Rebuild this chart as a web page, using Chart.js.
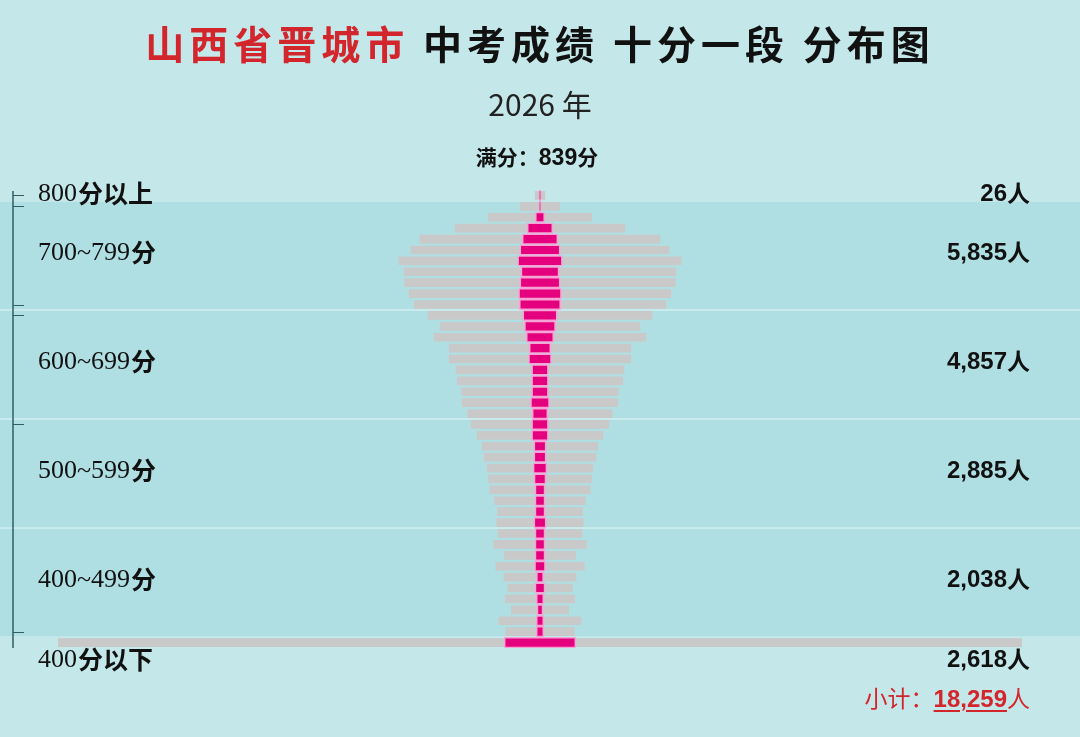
<!DOCTYPE html>
<html>
<head>
<meta charset="utf-8">
<script src="https://cdn.jsdelivr.net/npm/chart.js@4.4.1/dist/chart.umd.min.js"></script>
<style>
  html, body { margin: 0; padding: 0; background: #C4E7EA; }
  #wrap { position: relative; width: 1080px; height: 737px; overflow: hidden; }
  #c { position: absolute; left: 0; top: 0; }
  .t { position: absolute; white-space: nowrap; }
  #title { left: 0; width: 1080px; top: 15px; text-align: center; font-family: 'Noto Sans CJK SC', sans-serif; font-weight: 700; font-size: 39px; letter-spacing: 5px; color: #111; line-height: 54px; }
  #title .red { color: #D3262C; }
  #year { left: 0; width: 1080px; top: 83px; text-align: center; font-family: 'Noto Sans CJK SC', sans-serif; font-weight: 400; font-size: 30px; color: #222; line-height: 40px; }
  #full { left: 0; width: 1074px; top: 142px; text-align: center; font-family: 'Noto Sans CJK SC', sans-serif; font-weight: 700; font-size: 21px; color: #111; line-height: 28px; }
  #full .n { font-family: 'Liberation Sans Narrow', 'Liberation Sans', sans-serif; font-size: 23px; }
  #sum { right: 50px; top: 682px; font-family: 'Noto Sans CJK SC', sans-serif; font-size: 23px; color: #D3262C; line-height: 30px; }
  #sum .n { font-family: 'Liberation Sans Narrow', 'Liberation Sans', sans-serif; font-weight: 700; font-size: 24px; text-decoration: underline; text-decoration-thickness: 2px; text-underline-offset: 3px; }
</style>
</head>
<body>
<div id="wrap">
  <canvas id="c" width="1080" height="737"></canvas>
  <div class="t" id="title"><span class="red">山西省晋城市</span> 中考成绩 十分一段 分布图</div>
  <div class="t" id="year">2026 年</div>
  <div class="t" id="full">满分：<span class="n">839</span>分</div>
  <div class="t" id="sum">小计：<span class="n" id="sumNum"></span>人</div>
</div>
<script>
// ---- data ----
const rowLabels = [
  '800分以上',
  '790~799','780~789','770~779','760~769','750~759','740~749','730~739','720~729','710~719','700~709',
  '690~699','680~689','670~679','660~669','650~659','640~649','630~639','620~629','610~619','600~609',
  '590~599','580~589','570~579','560~569','550~559','540~549','530~539','520~529','510~519','500~509',
  '490~499','480~489','470~479','460~469','450~459','440~449','430~439','420~429','410~419','400~409',
  '400分以下'
];
// people per 10-point segment (grey bars)
const segmentCounts = [
  26,
  107, 281, 461, 652, 700, 766, 738, 736, 711, 683,
  608, 543, 575, 493, 493, 456, 449, 425, 422, 393,
  374, 341, 314, 304, 287, 279, 273, 247, 231, 235,
  228, 253, 193, 241, 196, 175, 188, 155, 223, 186,
  2618
];
// magenta core bars (same axis units)
const coreValues = [
  5,
  5, 25, 69, 96, 109, 121, 103, 109, 116, 112,
  93, 84, 74, 58, 62, 45, 45, 45, 51, 42,
  45, 45, 33, 33, 37, 32, 27, 27, 27, 33,
  27, 27, 27, 29, 19, 27, 20, 16, 20, 20,
  194
];
const bandLabels = ['800分以上', '700~799分', '600~699分', '500~599分', '400~499分', '400分以下'];
const bandTotals = [26, 5835, 4857, 2885, 2038, 2618];
const bandFirstRow = [0, 1, 11, 21, 31, 41];
const bandLastRow = [0, 10, 20, 30, 40, 41];
const axisTickRows = [0, 1, 10, 11, 21, 40];

document.getElementById('sumNum').textContent = bandTotals.reduce((a, b) => a + b, 0).toLocaleString('en-US');

const half = Math.max(...segmentCounts) / 2;

const decorPlugin = {
  id: 'decor',
  beforeDraw(chart) {
    const ctx = chart.ctx, y = chart.scales.y;
    const W = chart.width;
    const step = y.getPixelForValue(1) - y.getPixelForValue(0);
    ctx.save();
    ctx.fillStyle = '#C4E7EA';
    ctx.fillRect(0, 0, W, chart.height);
    const top = (y.getPixelForValue(0) + y.getPixelForValue(1)) / 2 + 1;
    const bot = (y.getPixelForValue(40) + y.getPixelForValue(41)) / 2 - 1;
    ctx.fillStyle = '#B0DFE3';
    ctx.fillRect(0, top, W, bot - top);
    ctx.fillStyle = '#C9EBEE';
    [10, 20, 30].forEach(r => {
      const yy = y.getPixelForValue(r) + step / 2;
      ctx.fillRect(0, yy - 1, W, 2);
    });
    ctx.restore();
  },
  afterDraw(chart) {
    const ctx = chart.ctx, y = chart.scales.y;
    ctx.save();
    // left axis line
    ctx.strokeStyle = '#2E5F63';
    ctx.lineWidth = 1.5;
    ctx.beginPath();
    ctx.moveTo(13, chart.chartArea.top + 1);
    ctx.lineTo(13, chart.chartArea.bottom);
    ctx.stroke();
    ctx.lineWidth = 1;
    axisTickRows.forEach(r => {
      const yy = Math.round(y.getPixelForValue(r)) + 0.5;
      ctx.beginPath();
      ctx.moveTo(13, yy);
      ctx.lineTo(24, yy);
      ctx.stroke();
    });
    // band labels
    ctx.textBaseline = 'middle';
    bandLabels.forEach((lab, i) => {
      let yy;
      if (i === bandLabels.length - 1) yy = y.getPixelForValue(bandLastRow[i]) + 17;
      else if (bandFirstRow[i] === bandLastRow[i]) yy = y.getPixelForValue(bandFirstRow[i]) - 2;
      else yy = (y.getPixelForValue(bandFirstRow[i]) + y.getPixelForValue(bandLastRow[i])) / 2 - 3;
      const m = lab.match(/^([0-9~]+)(.*)$/);
      let x = 38;
      ctx.fillStyle = '#111';
      ctx.textAlign = 'left';
      ctx.font = '26px "Liberation Serif", "DejaVu Serif", serif';
      ctx.fillText(m[1], x, yy + 1);
      x += ctx.measureText(m[1]).width + 1;
      ctx.font = 'bold 25px "Noto Sans CJK SC", sans-serif';
      ctx.fillText(m[2], x, yy);
      // right totals
      ctx.textAlign = 'right';
      const numTxt = bandTotals[i].toLocaleString('en-US');
      ctx.font = 'bold 23px "Noto Sans CJK SC", sans-serif';
      const wRen = ctx.measureText('人').width;
      ctx.fillText('人', 1030, yy);
      ctx.font = 'bold 24px "Liberation Sans Narrow", "Liberation Sans", sans-serif';
      ctx.fillText(numTxt, 1030 - wRen, yy + 1);
    });
    ctx.restore();
  }
};

new Chart(document.getElementById('c'), {
  type: 'bar',
  data: {
    labels: rowLabels,
    datasets: [
      {
        label: '核心',
        data: coreValues.map(v => [-v / 2, v / 2]),
        backgroundColor: '#E5007E',
        borderColor: '#F6A3D6',
        borderWidth: 1.5,
        borderSkipped: false,
        barThickness: 10.5,
        grouped: false,
        order: 0
      },
      {
        label: '人数',
        data: segmentCounts.map(v => [-v / 2, v / 2]),
        backgroundColor: '#C9C9C9',
        borderWidth: 0,
        barThickness: 8,
        grouped: false,
        order: 1
      }
    ]
  },
  options: {
    indexAxis: 'y',
    responsive: false,
    animation: false,
    layout: { padding: { left: 58, right: 58, top: 190, bottom: 89 } },
    plugins: { legend: { display: false }, tooltip: { enabled: false }, title: { display: false } },
    scales: {
      x: { type: 'linear', min: -half, max: half, display: false },
      y: { type: 'category', display: false, offset: true }
    }
  },
  plugins: [decorPlugin]
});
</script>
</body>
</html>
